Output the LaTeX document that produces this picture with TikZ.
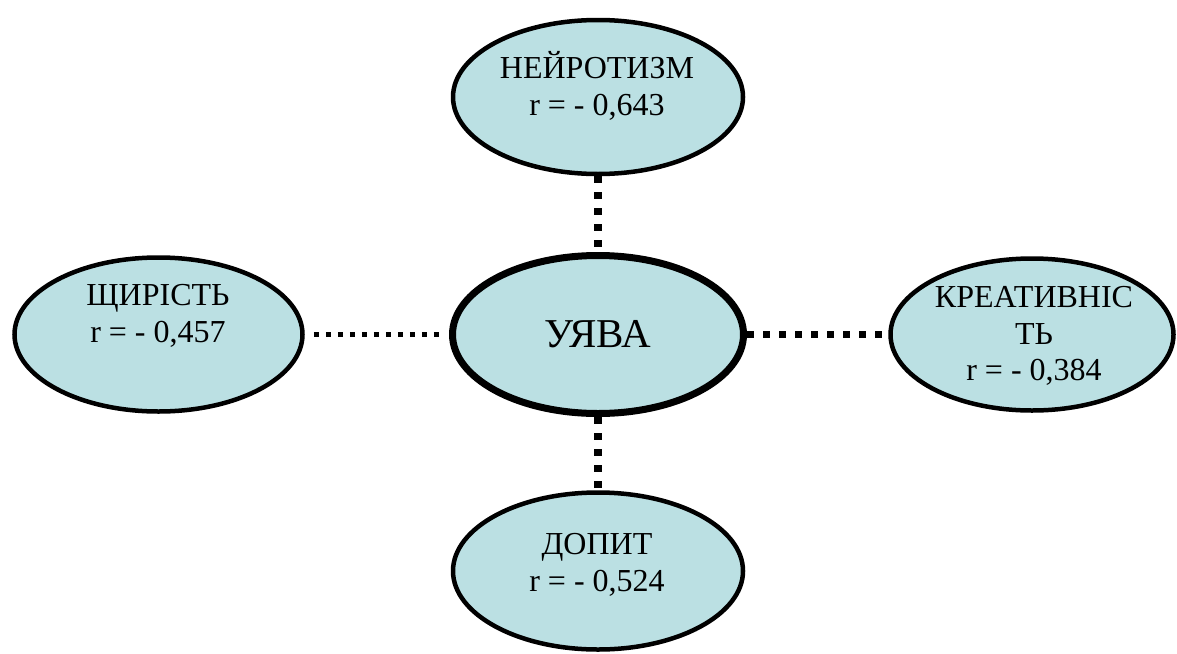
\documentclass[tikz,border=0pt]{standalone}
\usepackage{fontspec}
\setmainfont{Liberation Serif}
\usetikzlibrary{shapes.geometric}
\definecolor{traitfill}{RGB}{187,224,227}

\begin{document}
\begin{tikzpicture}[x=1pt,y=-1pt,
	trait/.style={ellipse, draw, line width=4.5pt, fill=traitfill, minimum width=290pt, minimum height=154pt, inner sep=0pt},
	core/.style={trait, line width=7pt, minimum width=291pt, minimum height=158pt},
	caption/.style={align=center, inner sep=0pt, font=\fontsize{32}{36.5}\selectfont},
	linkwide/.style={line width=8pt, dash pattern=on 7pt off 9pt},
	linkmid/.style={line width=7pt, dash pattern=on 7pt off 9pt},
	linkthin/.style={line width=5pt, dash pattern=on 5pt off 7pt}]
\useasboundingbox (0,0) rectangle (1177,653);
% ellipses
\node[core] (uyava) at (598,334.5) {};
\node[trait] (neuro) at (598,97) {};
\node[trait, minimum width=288pt] (shchyr) at (158.5,334.5) {};
\node[trait, minimum width=283pt, minimum height=152pt] (kreat) at (1032,334.5) {};
\node[trait, minimum height=157pt] (dopyt) at (598,571) {};
% texts
\node[font=\fontsize{41}{46}\selectfont, inner sep=0pt] (uyavaText) at (uyava) {УЯВА};
\node[caption] (neuroText) at (597,86) {НЕЙРОТИЗМ\\r = - 0,643};
\node[caption] (shchyrText) at (158,316) {ЩИРІСТЬ\\r = - 0,457};
\node[caption] (kreatText) at (1034,336) {КРЕАТИВНІС\\ТЬ\\r = - 0,384};
\node[caption] (dopytText) at (597,565) {ДОПИТ\\r = - 0,524};
% links
\path
(neuro.south) edge[linkwide] (uyava.north)
(uyava.south) edge[linkwide] (dopyt.north)
(shchyr.east) edge[linkthin, shorten <=9pt, shorten >=6pt] (uyava.west)
(uyava.east) edge[linkmid, shorten >=5pt] (kreat.west)
;
\end{tikzpicture}
\end{document}
